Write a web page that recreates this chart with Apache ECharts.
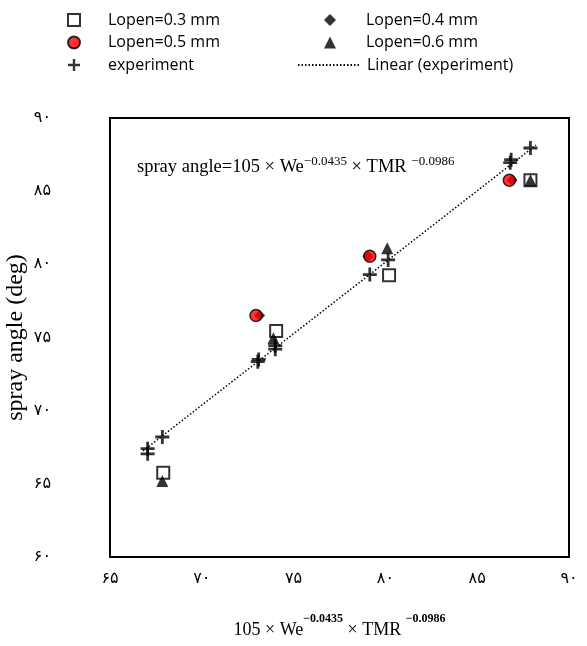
<!DOCTYPE html>
<html>
<head>
<meta charset="utf-8">
<script src="https://cdn.jsdelivr.net/npm/echarts@6/dist/echarts.min.js"></script>
<style>
  html, body { margin: 0; padding: 0; background: #fff; }
  #chart { width: 587px; height: 646px; }
</style>
</head>
<body>
<div id="chart"></div>
<script>
// 数据
const lopen03 = [[67.9, 65.75], [74.05, 75.45], [80.2, 79.25], [87.9, 85.75]];
const lopen04 = [[73.15, 76.5], [79.05, 80.55], [86.9, 85.75]];
const lopen05 = [[72.95, 76.5], [79.15, 80.55], [86.75, 85.75]];
const lopen06 = [[67.85, 65.2], [73.9, 74.95], [80.1, 81.1], [87.9, 85.75]];
const experiment = [
  [67.05, 67.4], [67.05, 67.05], [67.85, 68.2],
  [73.05, 73.35], [73.1, 73.5], [74.0, 74.2], [74.0, 74.45],
  [79.15, 79.3], [80.15, 80.3],
  [86.8, 86.95], [86.85, 87.15], [87.9, 87.95]
];
// 趋势线端点
const trendX = [66.8, 88.2];
const trendY = [67.25, 88.15];

const xTicks = [65, 70, 75, 80, 85, 90];
const xTickLabels = ['۶۵', '۷۰', '۷۵', '۸۰', '۸۵', '۹۰'];
const yTicks = [60, 65, 70, 75, 80, 85, 90];
const yTickLabels = ['۶۰', '۶۵', '۷۰', '۷۵', '۸۰', '۸۵', '۹۰'];

const plusPath = 'path://M4,0 H6 V4 H10 V6 H6 V10 H4 V6 H0 V4 H4 Z';

const chart = echarts.init(document.getElementById('chart'));

const legendText = (padLeft) => ({
  fontFamily: 'Open Sans',
  fontSize: 16,
  color: '#000',
  lineHeight: 16,
  padding: [0, 0, 0, padLeft]
});

chart.setOption({
  animation: false,
  backgroundColor: '#fff',
  grid: {
    left: 110,
    right: 18,
    top: 118,
    bottom: 89,
    outerBoundsMode: 'none',
    show: true,
    borderColor: '#000',
    borderWidth: 2
  },
  legend: [
    {
      left: 62,
      top: 7,
      orient: 'vertical',
      itemWidth: 12,
      itemHeight: 12,
      itemGap: 6.5,
      textStyle: legendText(23),
      data: ['Lopen=0.3 mm', 'Lopen=0.5 mm', 'experiment']
    },
    {
      left: 319,
      top: 7,
      orient: 'vertical',
      itemWidth: 12,
      itemHeight: 12,
      itemGap: 6.5,
      textStyle: legendText(25),
      data: ['Lopen=0.4 mm', 'Lopen=0.6 mm']
    },
    {
      left: 292,
      top: 52,
      itemWidth: 61,
      itemHeight: 12,
      itemStyle: { opacity: 0 },
      textStyle: legendText(3),
      data: ['Linear (experiment)']
    }
  ],
  xAxis: {
    type: 'value',
    min: 65,
    max: 90,
    interval: 5,
    name: '{t|105 × We}{s|−0.0435}{t| × TMR }{s|−0.0986}',
    nameLocation: 'middle',
    nameGap: 56,
    nameMoveOverlap: false,
    nameTextStyle: {
      rich: {
        t: { fontFamily: 'Liberation Serif', fontSize: 18, color: '#000', lineHeight: 26, verticalAlign: 'bottom' },
        s: { fontFamily: 'Liberation Serif', fontSize: 12, fontWeight: 'bold', color: '#000', lineHeight: 14, verticalAlign: 'top' }
      }
    },
    axisLine: { show: false },
    axisTick: { show: false },
    splitLine: { show: false },
    axisLabel: {
      margin: 14,
      fontFamily: 'DejaVu Sans',
      fontSize: 16,
      color: '#000',
      formatter: v => xTickLabels[xTicks.indexOf(v)]
    }
  },
  yAxis: {
    type: 'value',
    min: 60,
    max: 90,
    interval: 5,
    name: 'spray angle (deg)',
    nameLocation: 'middle',
    nameGap: 82,
    nameMoveOverlap: false,
    nameTextStyle: {
      fontFamily: 'Liberation Serif',
      fontSize: 24,
      color: '#000'
    },
    axisLine: { show: false },
    axisTick: { show: false },
    splitLine: { show: false },
    axisLabel: {
      margin: 59,
      fontFamily: 'DejaVu Sans',
      fontSize: 16,
      color: '#000',
      formatter: v => yTickLabels[yTicks.indexOf(v)]
    }
  },
  graphic: [
    {
      type: 'text',
      left: 137,
      top: 155,
      style: {
        text: '{t|spray angle=105 × We}{s|−0.0435}{t| × TMR }{s|−0.0986}',
        rich: {
          t: { fontFamily: 'Liberation Serif', fontSize: 18.5, fill: '#000', lineHeight: 22, verticalAlign: 'bottom' },
          s: { fontFamily: 'Liberation Serif', fontSize: 13, fill: '#000', lineHeight: 12, verticalAlign: 'top' }
        }
      }
    }
  ],
  series: [
    {
      name: 'Lopen=0.3 mm',
      type: 'scatter',
      symbol: 'rect',
      symbolSize: 12,
      itemStyle: { color: '#fff', borderColor: '#000', borderWidth: 2 },
      data: lopen03
    },
    {
      name: 'Lopen=0.4 mm',
      type: 'scatter',
      symbol: 'diamond',
      symbolSize: 11,
      itemStyle: { color: '#000' },
      data: lopen04
    },
    {
      name: 'Lopen=0.5 mm',
      type: 'scatter',
      symbol: 'circle',
      symbolSize: 12,
      itemStyle: { color: '#ff0000', borderColor: '#000', borderWidth: 1.5 },
      data: lopen05
    },
    {
      name: 'Lopen=0.6 mm',
      type: 'scatter',
      symbol: 'triangle',
      symbolSize: 12,
      itemStyle: { color: '#000' },
      data: lopen06
    },
    {
      name: 'experiment',
      type: 'scatter',
      symbol: plusPath,
      symbolSize: 14,
      itemStyle: { color: '#000' },
      data: experiment
    },
    {
      name: 'Linear (experiment)',
      type: 'line',
      showSymbol: false,
      symbol: 'none',
      lineStyle: { color: '#000', width: 1.5, type: [1.5, 2] },
      itemStyle: { color: '#000' },
      data: trendX.map((x, i) => [x, trendY[i]])
    }
  ]
});
</script>
</body>
</html>
